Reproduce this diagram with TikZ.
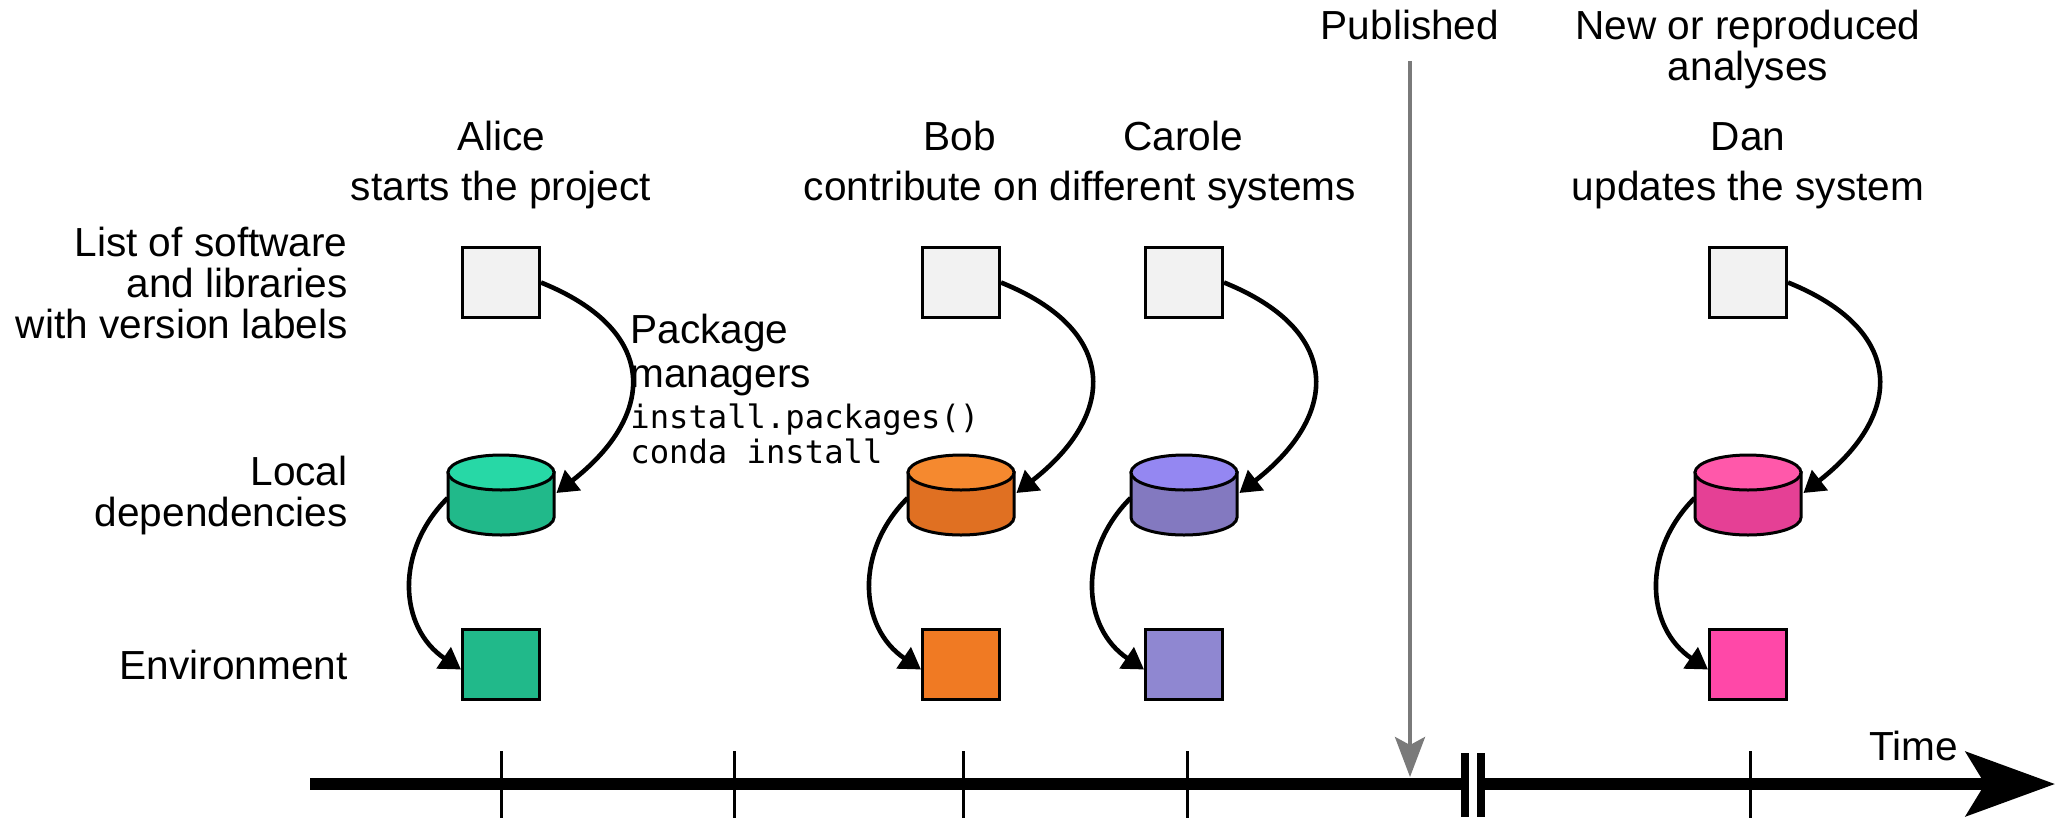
\documentclass[tikz,border=0pt]{standalone}
\usepackage{fontspec}
\setmainfont{Liberation Sans}
\newfontfamily\codefont{DejaVu Sans Mono}
\usetikzlibrary{arrows.meta}
\definecolor{boxgray}{HTML}{F2F2F2}
\definecolor{pubgray}{HTML}{7A7A7A}
\definecolor{aTop}{HTML}{27D8A6}
\definecolor{aBody}{HTML}{21B98A}
\definecolor{aEnv}{HTML}{21B98A}
\definecolor{bTop}{HTML}{F5892F}
\definecolor{bBody}{HTML}{E07022}
\definecolor{bEnv}{HTML}{F07A23}
\definecolor{cTop}{HTML}{9487F2}
\definecolor{cBody}{HTML}{8379C0}
\definecolor{cEnv}{HTML}{8F87D1}
\definecolor{dTop}{HTML}{FF58AA}
\definecolor{dBody}{HTML}{E54095}
\definecolor{dEnv}{HTML}{FF48A8}
\newcommand{\cylnode}[4]{%
  \node[inner sep=0pt, minimum width=53pt, minimum height=40pt] (#1) at (#2,-495) {};
  \filldraw[fill=#4, line width=1.5pt] (#2-53,-472.5) -- (#2-53,-517.5)
    arc[start angle=180, end angle=360, x radius=53, y radius=17.5] -- (#2+53,-472.5) -- cycle;
  \filldraw[fill=#3, line width=1.5pt] (#2,-472.5) ellipse[x radius=53, y radius=17.5];
}
\begin{document}
\begin{tikzpicture}[x=0.5pt,y=0.5pt,
  lbl/.style={font=\fontsize{20.3}{20.5}\selectfont, inner sep=0pt},
  code/.style={font=\codefont\fontsize{16.1}{17.5}\selectfont, inner sep=0pt},
  sq/.style={draw=black, line width=1.5pt, minimum width=38.5pt, minimum height=35pt, inner sep=0pt},
  listbox/.style={sq, fill=boxgray},
  flow/.style={line width=2.3pt, -{Triangle[length=10.5pt,width=12.5pt]}},
  tick/.style={line width=1.5pt},
  breakbar/.style={line width=4pt},
  timeline/.style={line width=5.8pt},
  pubarrow/.style={line width=2pt, draw=pubgray, -{Stealth[length=20pt,width=15pt,inset=4pt]}, color=pubgray}]
\useasboundingbox (0,0) rectangle (2056,-820);

% left labels (anchor base = last line's baseline)
\node[lbl, anchor=base east, align=right] (lsw) at (348,-338) {List of software\\and libraries\\with version labels};
\node[lbl, anchor=base east, align=right] (lld) at (348,-526) {Local\\dependencies};
\node[lbl, anchor=base east] (lenv) at (348,-679) {Environment};

% headers
\node[lbl, anchor=base] (alice) at (501,-150) {Alice};
\node[lbl, anchor=base] (alicet) at (501,-200) {starts the project};
\node[lbl, anchor=base] (bob) at (960,-150) {Bob};
\node[lbl, anchor=base] (carole) at (1183,-150) {Carole};
\node[lbl, anchor=base] (bct) at (1080,-200) {contribute on different systems};
\node[lbl, anchor=base] (dan) at (1748,-150) {Dan};
\node[lbl, anchor=base] (dant) at (1748,-200) {updates the system};
\node[lbl, anchor=base, align=center] (newan) at (1748,-80) {New or reproduced\\analyses};
\node[lbl, anchor=base] (pub) at (1410,-39) {Published};

% package managers
\node[lbl, font=\fontsize{20.3}{22}\selectfont, anchor=base west, align=left] (pm) at (630,-387) {Package\\managers};
\node[code, anchor=base west, align=left] (pmc) at (630,-463) {install.packages()\\conda install};

% boxes
\node[listbox] (ga) at (501,-282.5) {};
\node[listbox] (gb) at (961,-282.5) {};
\node[listbox] (gc) at (1184,-282.5) {};
\node[listbox] (gd) at (1748,-282.5) {};

\cylnode{ca}{501}{aTop}{aBody}
\cylnode{cb}{961}{bTop}{bBody}
\cylnode{cc}{1184}{cTop}{cBody}
\cylnode{cd}{1748}{dTop}{dBody}

\node[sq, fill=aEnv] (ea) at (501,-664.5) {};
\node[sq, fill=bEnv] (eb) at (961,-664.5) {};
\node[sq, fill=cEnv] (ec) at (1184,-664.5) {};
\node[sq, fill=dEnv] (ed) at (1748,-664.5) {};

% flow arrows
\foreach \g/\c/\e in {ga/ca/ea, gb/cb/eb, gc/cc/ec, gd/cd/ed}{
  \draw[flow] (\g.east) to[out=-22, in=38, looseness=1.55] ([xshift=1pt,yshift=1pt]\c.east);
  \draw[flow] ([yshift=-1.5pt]\c.west) to[out=225, in=146, looseness=1.12] ([yshift=-2.5pt]\e.west);
}

% timeline
\coordinate (t0) at (310,-784);
\coordinate (tb1) at (1465,-784);
\coordinate (tb2) at (1481,-784);
\coordinate (tend) at (2055,-784);
\draw[timeline] (t0) -- (tb1);
\draw[timeline, -{Stealth[length=44.5pt,width=32pt,inset=9.5pt]}] (tb2) -- (tend);
\draw[breakbar] ([yshift=15.5pt]tb1) -- ([yshift=-16.5pt]tb1);
\draw[breakbar] ([yshift=15.5pt]tb2) -- ([yshift=-16.5pt]tb2);
\foreach \x/\n in {501/k1, 734/k2, 963/k3, 1187/k4, 1750/k5}{
  \coordinate (\n) at (\x,-784);
  \draw[tick] ([yshift=16.5pt]\n) -- ([yshift=-17pt]\n);
}
\node[lbl, anchor=base] (time) at (1914,-760) {Time};

% published arrow
\coordinate (pubend) at (1410,-777);
\draw[pubarrow] ([yshift=-10.5pt]pub.south) -- (pubend);
\end{tikzpicture}
\end{document}
